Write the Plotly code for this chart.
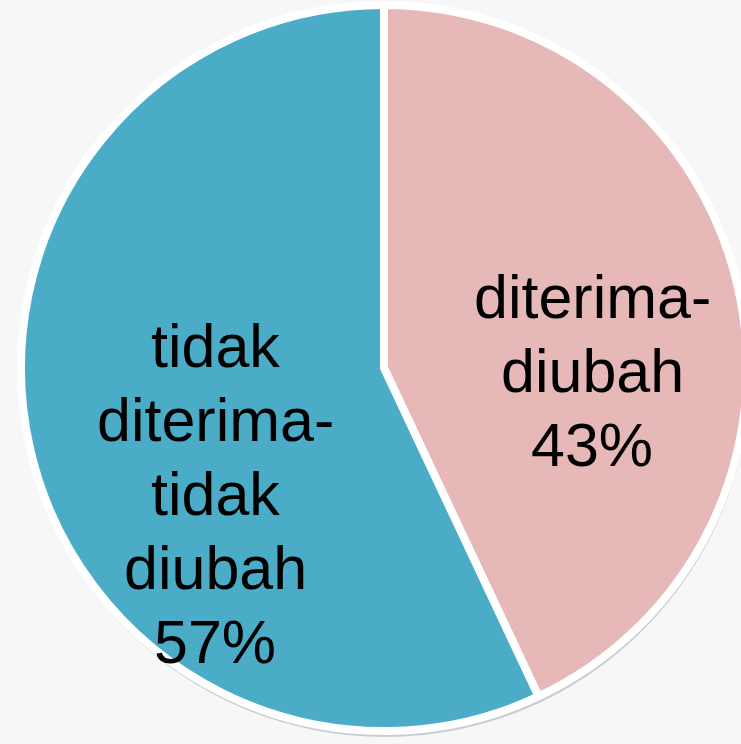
import plotly.graph_objs as go

# data
labels = ["diterima-diubah", "tidak diterima-tidak diubah"]
label_lines = ["diterima-<br>diubah", "tidak<br>diterima-<br>tidak<br>diubah"]
values = [43, 57]
colors = ["#E6B9B8", "#4AACC6"]

W, H = 750, 744
total = sum(values)

# soft drop shadow under the pie
shadow = go.Pie(
    values=[total],
    marker=dict(colors=["rgba(40,60,70,0.22)"], line=dict(width=0)),
    textinfo="none",
    hoverinfo="skip",
    sort=False,
    showlegend=False,
    domain=dict(x=[20 / W, 750 / W], y=[7 / H, 737 / H]),
)

pie = go.Pie(
    labels=labels,
    values=values,
    textinfo="none",
    marker=dict(colors=colors, line=dict(color="white", width=8)),
    sort=False,
    direction="clockwise",
    rotation=0,
    hoverinfo="label+percent",
    showlegend=False,
    domain=dict(x=[21 / W, 747 / W], y=[13 / H, 739 / H]),
)

fig = go.Figure(data=[shadow, pie])

# slice labels, PowerPoint style (tighter line spacing than plotly's <br>)
pcts = [round(100 * v / total) for v in values]
label_pos = [(592, 297), (215, 346)]  # centre x, first line y (px)
line_gap = 74
for txt, p, (cx, y0) in zip(label_lines, pcts, label_pos):
    lines = txt.split("<br>") + [f"{p}%"]
    for i, line in enumerate(lines):
        fig.add_annotation(
            text=line,
            x=cx / W, y=1 - (y0 + i * line_gap) / H,
            xref="paper", yref="paper",
            xanchor="center", yanchor="middle",
            showarrow=False,
            font=dict(family="Liberation Sans, Arial", size=61, color="black"),
        )

fig.update_layout(
    width=W,
    height=H,
    margin=dict(l=0, r=0, t=0, b=0),
    paper_bgcolor="#F7F7F7",
    plot_bgcolor="#F7F7F7",
)
fig.write_html(
    "out.html",
    config=dict(displayModeBar=False),
    post_script="document.body.style.margin='0';document.body.style.overflow='hidden';",
)
